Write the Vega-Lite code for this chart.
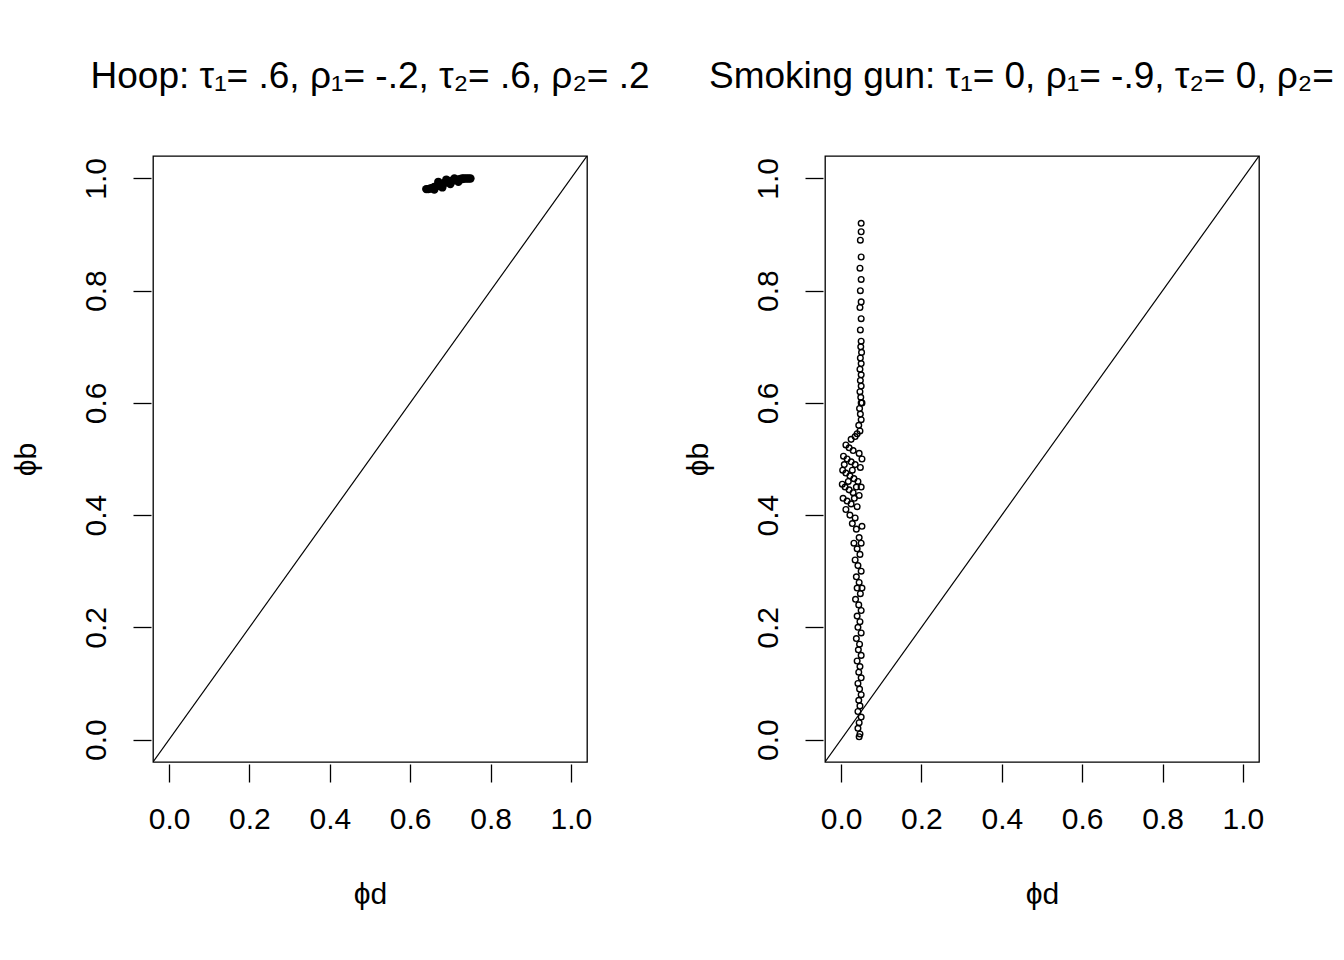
{
"$schema":"https://vega.github.io/schema/vega-lite/v6.json",
"background":"white",
"padding":{"left":10,"top":57,"right":5,"bottom":5},
"spacing":238,
"bounds":"flush",
"config":{"view":{"stroke":"black","strokeWidth":1.3},"font":"Liberation Sans",
"axis":{"grid":false,"domain":false,"tickColor":"black","tickSize":18,"tickWidth":1.3,"labelFontSize":30,"labelColor":"black","titleFontSize":30,"titleFontWeight":"normal","titleColor":"black"},
"axisX":{"labelPadding":22,"titlePadding":45,"offset":2},
"axisY":{"labelAngle":-90,"labelAlign":"center","labelBaseline":"bottom","labelPadding":22,"titlePadding":40,"offset":2},
"title":{"fontSize":37,"fontWeight":"normal","color":"black","offset":60}},
"datasets":{
"diag":[{"x":-0.04,"y":-0.04},{"x":1.04,"y":1.04}],
"hoop":[{"x":0.64,"y":0.981},{"x":0.645,"y":0.981},{"x":0.65,"y":0.982},{"x":0.655,"y":0.983},{"x":0.66,"y":0.985},{"x":0.665,"y":0.986},{"x":0.67,"y":0.988},{"x":0.675,"y":0.989},{"x":0.68,"y":0.99},{"x":0.685,"y":0.992},{"x":0.69,"y":0.993},{"x":0.695,"y":0.994},{"x":0.70,"y":0.995},{"x":0.705,"y":0.996},{"x":0.71,"y":0.997},{"x":0.715,"y":0.998},{"x":0.72,"y":0.998},{"x":0.725,"y":0.999},{"x":0.73,"y":0.999},{"x":0.735,"y":1.0},{"x":0.74,"y":1.0},{"x":0.745,"y":1.0},{"x":0.75,"y":1.0},{"x":0.66,"y":0.98},{"x":0.68,"y":0.984},{"x":0.70,"y":0.99},{"x":0.72,"y":0.994},{"x":0.69,"y":0.998},{"x":0.71,"y":1.0},{"x":0.73,"y":1.0},{"x":0.67,"y":0.994}],
"sg":[{"x":0.05,"y":0.92},{"x":0.05,"y":0.905},{"x":0.048,"y":0.89},{"x":0.05,"y":0.86},{"x":0.047,"y":0.84},{"x":0.05,"y":0.82},{"x":0.048,"y":0.8},{"x":0.05,"y":0.78},{"x":0.047,"y":0.77},{"x":0.05,"y":0.75},{"x":0.048,"y":0.73},{"x":0.05,"y":0.71},{"x":0.049,"y":0.7},{"x":0.051,"y":0.69},{"x":0.048,"y":0.68},{"x":0.05,"y":0.67},{"x":0.047,"y":0.66},{"x":0.05,"y":0.65},{"x":0.048,"y":0.64},{"x":0.05,"y":0.63},{"x":0.047,"y":0.62},{"x":0.049,"y":0.61},{"x":0.05,"y":0.6},{"x":0.046,"y":0.59},{"x":0.048,"y":0.58},{"x":0.05,"y":0.57},{"x":0.044,"y":0.56},{"x":0.047,"y":0.55},{"x":0.04,"y":0.545},{"x":0.035,"y":0.54},{"x":0.025,"y":0.535},{"x":0.012,"y":0.525},{"x":0.02,"y":0.52},{"x":0.03,"y":0.515},{"x":0.045,"y":0.51},{"x":0.006,"y":0.505},{"x":0.015,"y":0.5},{"x":0.025,"y":0.495},{"x":0.035,"y":0.49},{"x":0.048,"y":0.485},{"x":0.004,"y":0.48},{"x":0.012,"y":0.475},{"x":0.022,"y":0.47},{"x":0.032,"y":0.465},{"x":0.042,"y":0.46},{"x":0.003,"y":0.455},{"x":0.01,"y":0.45},{"x":0.02,"y":0.445},{"x":0.03,"y":0.44},{"x":0.045,"y":0.435},{"x":0.005,"y":0.43},{"x":0.015,"y":0.425},{"x":0.025,"y":0.42},{"x":0.04,"y":0.415},{"x":0.012,"y":0.41},{"x":0.022,"y":0.4},{"x":0.035,"y":0.395},{"x":0.028,"y":0.385},{"x":0.038,"y":0.375},{"x":0.045,"y":0.36},{"x":0.032,"y":0.35},{"x":0.04,"y":0.34},{"x":0.047,"y":0.33},{"x":0.035,"y":0.32},{"x":0.042,"y":0.31},{"x":0.05,"y":0.3},{"x":0.038,"y":0.29},{"x":0.045,"y":0.28},{"x":0.04,"y":0.27},{"x":0.048,"y":0.26},{"x":0.036,"y":0.25},{"x":0.044,"y":0.24},{"x":0.05,"y":0.23},{"x":0.04,"y":0.22},{"x":0.047,"y":0.21},{"x":0.042,"y":0.2},{"x":0.05,"y":0.19},{"x":0.038,"y":0.18},{"x":0.046,"y":0.17},{"x":0.043,"y":0.16},{"x":0.05,"y":0.15},{"x":0.04,"y":0.14},{"x":0.047,"y":0.13},{"x":0.044,"y":0.12},{"x":0.05,"y":0.11},{"x":0.042,"y":0.1},{"x":0.046,"y":0.09},{"x":0.05,"y":0.08},{"x":0.044,"y":0.07},{"x":0.047,"y":0.06},{"x":0.042,"y":0.05},{"x":0.05,"y":0.04},{"x":0.045,"y":0.03},{"x":0.042,"y":0.02},{"x":0.047,"y":0.01},{"x":0.045,"y":0.005},{"x":0.052,"y":0.6},{"x":0.052,"y":0.5},{"x":0.05,"y":0.45},{"x":0.052,"y":0.38},{"x":0.05,"y":0.35},{"x":0.052,"y":0.27},{"x":0.038,"y":0.45},{"x":0.008,"y":0.49},{"x":0.018,"y":0.46},{"x":0.028,"y":0.48},{"x":0.033,"y":0.43}]
},
"hconcat":[
{"width":434,"height":606,"title":"Hoop: τ₁= .6, ρ₁= -.2, τ₂= .6, ρ₂= .2",
"layer":[
{"data":{"name":"diag"},"mark":{"type":"line","color":"black","strokeWidth":1.2,"clip":true},"encoding":{"x":{"field":"x","type":"quantitative","scale":{"domain":[-0.04,1.04],"nice":false,"zero":false},"title":"ϕd","axis":{"values":[0,0.2,0.4,0.6,0.8,1],"format":".1f"}},"y":{"field":"y","type":"quantitative","scale":{"domain":[-0.04,1.04],"nice":false,"zero":false},"title":"ϕb","axis":{"values":[0,0.2,0.4,0.6,0.8,1],"format":".1f"}}}},
{"data":{"name":"hoop"},"mark":{"type":"point","shape":"circle","filled":true,"color":"black","size":70,"opacity":1},"encoding":{"x":{"field":"x","type":"quantitative"},"y":{"field":"y","type":"quantitative"}}}
]},
{"width":434,"height":606,"title":"Smoking gun: τ₁= 0, ρ₁= -.9, τ₂= 0, ρ₂= .9",
"layer":[
{"data":{"name":"diag"},"mark":{"type":"line","color":"black","strokeWidth":1.2,"clip":true},"encoding":{"x":{"field":"x","type":"quantitative","scale":{"domain":[-0.04,1.04],"nice":false,"zero":false},"title":"ϕd","axis":{"values":[0,0.2,0.4,0.6,0.8,1],"format":".1f"}},"y":{"field":"y","type":"quantitative","scale":{"domain":[-0.04,1.04],"nice":false,"zero":false},"title":"ϕb","axis":{"values":[0,0.2,0.4,0.6,0.8,1],"format":".1f"}}}},
{"data":{"name":"sg"},"mark":{"type":"point","shape":"circle","filled":false,"color":"black","size":32,"strokeWidth":1.4,"opacity":1},"encoding":{"x":{"field":"x","type":"quantitative"},"y":{"field":"y","type":"quantitative"}}}
]}
]}
